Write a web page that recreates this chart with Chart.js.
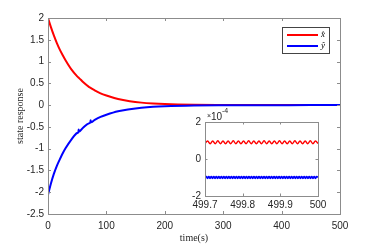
<!DOCTYPE html>
<html><head><meta charset="utf-8">
<script src="https://cdn.jsdelivr.net/npm/chart.js@4/dist/chart.umd.min.js"></script>
<style>
html,body{margin:0;padding:0;background:#fff;}
#wrap{position:relative;width:374px;height:245px;}
#main{position:absolute;left:0;top:0;}
#inset{position:absolute;left:175px;top:105px;}
</style></head>
<body>
<div id="wrap">
<canvas id="main" width="374" height="245"></canvas>
<canvas id="inset" width="155" height="112"></canvas>
</div>
<script>
// ---- data ----
const times = [0,5,10,15,20,25,30,40,50,52,52.5,53,60,70,72.5,73,73.5,80,90,100,120,140,160,180,200,250,300,350,400,450,500];
const xHat = [2.00,1.79,1.60,1.43,1.28,1.15,1.03,0.82,0.66,0.635,0.63,0.625,0.53,0.42,0.40,0.395,0.39,0.34,0.27,0.22,0.14,0.09,0.057,0.037,0.024,0.008,0.003,0.001,0,0,0];
const yHat = [-2.06,-1.80,-1.58,-1.40,-1.25,-1.11,-0.99,-0.79,-0.64,-0.62,-0.56,-0.61,-0.52,-0.42,-0.40,-0.35,-0.395,-0.34,-0.27,-0.22,-0.14,-0.095,-0.062,-0.04,-0.027,-0.01,-0.004,-0.002,-0.001,0,0];
const mainXTicks = [0,100,200,300,400,500];
const mainYTicks = [2,1.5,1,0.5,0,-0.5,-1,-1.5,-2,-2.5];
const seriesNames = ['x\u0302','y\u0302'];

// inset (values in units of 1e-4)
const insetStart = 499.7, insetEnd = 500;
const insetRed = [0.84,0.97,0.83,0.97,0.83,0.98,0.83,0.97,0.83,0.97,0.83,0.98,0.83,0.97,0.83,0.97,0.83,0.98,0.83,0.97,0.83,0.97,0.83,0.98,0.83,0.97,0.83,0.97,0.83,0.98,0.83,0.97,0.83,0.97,0.83,0.98,0.83,0.97,0.83,0.97,0.83,0.98,0.83,0.97,0.84];
const insetBlue = [-0.99,-0.95,-1.04,-0.95,-1.04,-0.95,-1.04,-0.95,-1.04,-0.95,-1.04,-0.95,-1.04,-0.95,-1.04,-0.95,-1.04,-0.95,-1.04,-0.95,-1.04,-0.95,-1.04,-0.95,-1.04,-0.95,-1.04,-0.95,-1.04,-0.95,-1.04,-0.95,-1.04,-0.95,-1.04,-0.95,-1.04,-0.95,-1.04,-0.95,-1.04,-0.95,-1.04,-0.95,-1.04,-0.95,-1.04,-0.95,-1.04,-0.95,-1.04,-0.95,-1.04,-0.95,-1.04,-0.95,-1.04,-0.95,-1.04,-0.95,-1.04,-0.95,-1.04,-0.95,-1.04,-0.95,-1.04,-0.95,-1.04,-0.95,-1.04,-0.95,-1.04,-0.95,-1.04,-0.95,-1.04,-0.95,-1.04,-0.95,-1.04,-0.95,-1.04,-0.95,-1.04,-0.95,-1.04,-0.95,-1.04,-0.95,-0.99];
const insetXTicks = [499.7,499.8,499.9,500];
const insetYTicks = [2,0,-2];
const insetExponent = '-4';

const RED = '#ff0000', BLUE = '#0000ff';
const AXIS = '#8c8c8c', TXT = '#262626';
const SANS = '"Liberation Sans", Arial, sans-serif';
const SERIF = '"Liberation Serif", "DejaVu Serif", serif';

function pts(xs, ys){ return ys.map((v,i)=>({x:xs[i], y:v})); }
function evenTimes(n){ const a=[]; for(let i=0;i<n;i++) a.push(insetStart+(insetEnd-insetStart)*i/(n-1)); return a; }
function fmt(v){ return String(Math.round(v*10)/10); }

function frameAndTicks(chart, tickLen){
  const ctx = chart.ctx, a = chart.chartArea;
  const sx = chart.scales.x, sy = chart.scales.y;
  ctx.save();
  ctx.strokeStyle = AXIS; ctx.lineWidth = 1;
  ctx.strokeRect(Math.round(a.left)+0.5, Math.round(a.top)+0.5, Math.round(a.right-a.left), Math.round(a.bottom-a.top));
  ctx.beginPath();
  sx.ticks.forEach(t=>{
    const p = Math.round(sx.getPixelForValue(t.value))+0.5;
    ctx.moveTo(p, a.bottom); ctx.lineTo(p, a.bottom-tickLen);
    ctx.moveTo(p, a.top); ctx.lineTo(p, a.top+tickLen);
  });
  sy.ticks.forEach(t=>{
    const p = Math.round(sy.getPixelForValue(t.value))+0.5;
    ctx.moveTo(a.left, p); ctx.lineTo(a.left+tickLen, p);
    ctx.moveTo(a.right, p); ctx.lineTo(a.right-tickLen, p);
  });
  ctx.stroke();
  ctx.restore();
}

const mainPlugin = {
  id:'mainFrame',
  afterDraw(chart){
    frameAndTicks(chart, 3);
    const ctx = chart.ctx;
    ctx.save();
    // legend box
    const bx=282.5, by=27.5, bw=47, bh=26;
    ctx.fillStyle='#fff'; ctx.fillRect(bx,by,bw,bh);
    ctx.strokeStyle='#444'; ctx.lineWidth=1; ctx.strokeRect(bx,by,bw,bh);
    const rows=[[RED,35],[BLUE,46]];
    ctx.lineWidth=2;
    rows.forEach((r,i)=>{
      ctx.strokeStyle=r[0]; ctx.beginPath(); ctx.moveTo(287,r[1]); ctx.lineTo(318,r[1]); ctx.stroke();
      ctx.fillStyle='#000'; ctx.font='italic 9px '+SERIF; ctx.textAlign='left'; ctx.textBaseline='middle';
      ctx.fillText(seriesNames[i], 321, r[1]);
    });
    ctx.restore();
  }
};

new Chart(document.getElementById('main'), {
  type:'line',
  data:{ datasets:[
    {label:seriesNames[0], data:pts(times,xHat), borderColor:RED, borderWidth:2, pointRadius:0, cubicInterpolationMode:'monotone', order:1},
    {label:seriesNames[1], data:pts(times,yHat), borderColor:BLUE, borderWidth:2, pointRadius:0, cubicInterpolationMode:'monotone', order:0}
  ]},
  options:{
    responsive:false, animation:false, devicePixelRatio:1,
    layout:{padding:{left:0,top:18,right:34,bottom:0}},
    plugins:{legend:{display:false}, tooltip:{enabled:false}},
    scales:{
      x:{type:'linear', min:0, max:500,
         afterBuildTicks(s){ s.ticks = mainXTicks.map(v=>({value:v})); },
         afterFit(s){ s.height = 31; },
         grid:{display:false, drawTicks:false}, border:{display:false},
         ticks:{color:TXT, font:{family:SANS, size:10}, padding:6, maxRotation:0, callback:fmt},
         title:{display:true, text:'time(s)', color:TXT, font:{family:SERIF, size:10}, padding:{top:0,bottom:1}}},
      y:{type:'linear', min:-2.5, max:2,
         afterBuildTicks(s){ s.ticks = mainYTicks.map(v=>({value:v})); },
         afterFit(s){ s.width = 48; },
         grid:{display:false, drawTicks:false}, border:{display:false},
         ticks:{color:TXT, font:{family:SANS, size:10}, padding:4, callback:fmt},
         title:{display:true, text:'state response', color:TXT, font:{family:SERIF, size:10}, padding:{top:14,bottom:0}}}
    }
  },
  plugins:[mainPlugin]
});

const insetPlugin = {
  id:'insetFrame',
  beforeDatasetsDraw(chart){
    const a=chart.chartArea, ctx=chart.ctx;
    ctx.save(); ctx.fillStyle='#fff'; ctx.fillRect(a.left,a.top,a.right-a.left,a.bottom-a.top); ctx.restore();
  },
  afterDraw(chart){
    frameAndTicks(chart, 2.5);
    const ctx=chart.ctx;
    ctx.save();
    ctx.fillStyle=TXT; ctx.textBaseline='middle'; ctx.textAlign='left';
    ctx.font='7px '+SANS; ctx.fillText('\u00d7', 32, 11.5);
    ctx.font='10px '+SANS; ctx.fillText('10', 36, 12);
    ctx.font='7px '+SANS; ctx.fillText(insetExponent, 47, 6);
    ctx.restore();
  }
};

new Chart(document.getElementById('inset'), {
  type:'line',
  data:{ datasets:[
    {data:pts(evenTimes(insetRed.length), insetRed), borderColor:RED, borderWidth:1.5, pointRadius:0, tension:0.4},
    {data:pts(evenTimes(insetBlue.length), insetBlue), borderColor:BLUE, borderWidth:1.8, pointRadius:0, tension:0.4}
  ]},
  options:{
    responsive:false, animation:false, devicePixelRatio:1,
    layout:{padding:{left:0,top:17,right:12,bottom:0}},
    plugins:{legend:{display:false}, tooltip:{enabled:false}},
    scales:{
      x:{type:'linear', min:insetStart, max:insetEnd,
         afterBuildTicks(s){ s.ticks = insetXTicks.map(v=>({value:v})); },
         afterFit(s){ s.height = 21; },
         grid:{display:false, drawTicks:false}, border:{display:false},
         ticks:{color:TXT, font:{family:SANS, size:10}, padding:3, maxRotation:0, autoSkip:false, callback:fmt}},
      y:{type:'linear', min:-2, max:2,
         afterBuildTicks(s){ s.ticks = insetYTicks.map(v=>({value:v})); },
         afterFit(s){ s.width = 30; },
         grid:{display:false, drawTicks:false}, border:{display:false},
         ticks:{color:TXT, font:{family:SANS, size:10}, padding:4, callback:fmt}}
    }
  },
  plugins:[insetPlugin]
});
</script>
</body></html>
